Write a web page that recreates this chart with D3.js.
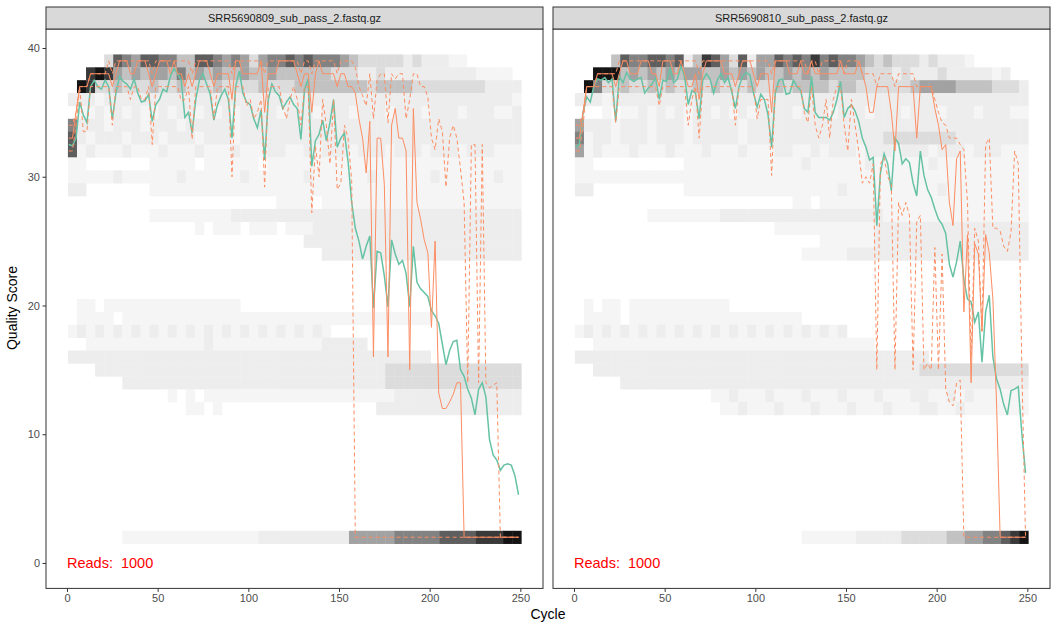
<!DOCTYPE html>
<html><head><meta charset="utf-8">
<script src="https://cdn.jsdelivr.net/npm/d3@7"></script>
<style>body{margin:0;background:#fff}svg{display:block}text{font-family:"Liberation Sans",Arial,sans-serif}</style>
</head><body><svg id="chart" width="1058" height="629"></svg>
<script>
// ---------------- data ----------------
const sampleNames = ["SRR5690809_sub_pass_2.fastq.gz", "SRR5690810_sub_pass_2.fastq.gz"];
const readCounts = [1000, 1000];
const xTicks = [0, 50, 100, 150, 200, 250];
const yTicks = [0, 10, 20, 30, 40];
const cycles = d3.range(1, 250, 2); // sampled cycles 1,3,...,249

// left sample (SRR5690809)
const meanL = [
 32.5,32.4,33.0,35.8,34.8,34.2,37.0,37.5,37.0,36.8,
 37.5,37.0,34.5,36.5,37.8,37.4,37.2,36.8,37.6,36.5,
 35.8,35.9,36.4,34.3,35.6,36.0,36.8,36.6,37.8,38.4,
 38.0,37.5,34.6,35.0,33.4,36.0,37.5,38.0,37.2,36.4,
 34.4,35.6,36.3,36.8,36.0,33.0,37.0,38.2,36.5,35.8,
 35.6,34.5,33.8,35.2,31.3,36.0,37.2,36.6,36.3,35.3,
 35.8,36.2,35.6,35.3,32.9,36.8,37.6,30.8,32.8,33.3,
 34.4,32.8,34.2,36.0,32.3,33.0,33.4,31.2,28.0,26.0,
 25.0,23.6,24.6,25.4,19.8,24.2,24.1,22.3,19.9,25.1,
 24.0,23.2,23.5,22.5,19.9,24.6,21.8,21.3,21.0,20.7,
 19.6,19.2,18.6,17.0,15.4,16.5,17.2,17.3,15.0,14.5,
 13.5,12.8,11.5,13.5,14.0,12.9,9.6,8.4,8.0,7.2,
 7.6,7.7,7.6,6.8,5.3];
const medianL = [
 33,33,35,37,37,37,38,38,38,38,
 38,38,37,38,39,39,39,38,38,39,
 39,39,38,37,38,39,39,39,38,39,
 38,38,37,38,37,38,39,39,39,38,
 37,38,38,38,38,36,39,39,38,38,
 38,38,38,39,35,38,38,38,39,39,
 39,39,39,38,37,38,38,35,38,39,
 38,38,38,38,37,38,38,37,37,36.5,
 34.5,33,30.3,34.3,16,33,33,29.4,16,34,
 35.3,33,33,32,15,35.3,28,26.7,25.1,24.1,
 18.3,25,13.2,12,12,12.5,13.1,14,14,2,
 2,2,2,2,2,2,2,2,2,2,
 2,2,2,2,2];
const q25L = [
 32,32,34,37,33.5,33.5,37,37,37,37,
 37,37,34,37,37,37,37,36,37,37,
 36,36,37,32.5,37,37,37,37,37,37,
 37,35.9,36,37,32.9,37,37,37,37,37,
 34.5,37,37,37,37,30,37,37,37,35.5,
 36,34.5,35,36,29.2,37,37,37,37,35.5,
 34.5,36,37,36,34,37,37,27.2,32.4,30,
 36,34,31,36,29,29.5,34,33,29.7,2,
 2,2,2,2,2,2,2,2,2,2,
 2,2,2,2,2,2,2,2,2,2,
 2,2,2,2,2,2,2,2,2,2,
 2,2,2,2,2,2,2,2,2,2,
 2,2,2,2,2];
const q75L = [
 34,34,35,37,37,37,38,38,38,38,
 38,39,38,39,39,39,39,39,39,39,
 39,39,39,38,39,39,39,39,39,39,
 39,39,39,39,38,39,39,39,39,39,
 39,39,39,39,39,38,39,39,39,39,
 39,39,39,39,38,39,39,39,39,39,
 39,39,39,39,38,39,39,38,39,39,
 39,39,39,39,38,39,39,39,39,38.5,
 37,36.3,35.5,38,34.5,37.5,38,38,34.2,38,
 37.6,38,38,34.5,36,38,38,37,37,36.2,
 33,32.1,34.5,33.5,29.2,33,34,33,30.6,28,
 14,32.5,32.5,14,32.5,14,13.6,13.8,14,2,
 2,2,2,2,2];

// right sample (SRR5690810)
const meanR = [
 32.3,32.5,35.0,36.2,35.8,37.1,37.6,37.5,37.7,37.3,
 37.6,34.3,37.8,37.3,38.1,37.6,37.4,37.6,37.7,36.5,
 36.9,37.2,37.7,36.0,37.5,37.4,38.4,37.3,37.6,38.6,
 37.8,35.6,36.7,36.5,34.5,37.5,38.0,37.6,36.5,37.5,
 38.0,37.3,37.7,36.6,35.3,37.0,37.8,38.1,37.9,36.5,
 35.4,36.4,36.0,34.8,32.3,36.5,37.5,37.6,36.4,36.5,
 37.5,37.0,36.7,35.3,35.0,37.8,35.0,34.6,34.6,34.6,
 34.4,35.0,36.0,37.4,34.6,35.3,35.6,35.1,34.3,33.0,
 32.3,31.3,31.5,26.2,30.3,31.8,31.0,28.9,33.0,32.6,
 31.0,31.4,31.1,29.5,28.5,32.0,30.1,29.0,28.4,27.5,
 26.7,26.3,25.6,23.2,22.2,23.4,25.0,22.0,20.5,20.3,
 18.7,19.5,15.6,19.5,20.8,16.0,14.3,13.5,12.3,11.5,
 13.4,13.5,13.7,10.0,7.0];
const medianR = [
 33,33,35,37,37,37,38,38,38,38,
 38,37,38,39,39,38,38,38,39,39,
 39,38,38,37,39,39,39,38,38,39,
 38,37,37,38,36,38,39,39,39,39,
 39,38,38,38,37,38,39,39,39,38,
 37,38,38,38,35,39,39,39,39,38,
 38,38,39,38,38,39,38,38,38,38,
 38,38,38,39,38,38,38,38,39,38,
 37,35,35,37,37,37,37,35,32,37,
 37,37,37,37,33,37,37,37,37,35.3,
 34,32.1,32.5,28,26.2,31.4,32,19.5,25.5,14,
 24.8,24,18,25.5,24.1,20.5,12.5,2,2,2,
 2,2,2,2,2];
const q25R = [
 32,32,34,37,37,37,37,37,37,37,
 37,34.2,37,37,37,37,37,37,37,37,
 37,37,37,35.5,37,37,37,37,37,37,
 37,34,36,37,33,37,37,37,37,37,
 37,37,37,37,34,37,37,37,37,37,
 34.5,36,36,36,30.1,37,37,37,37,37,
 37,37,37,35,34.2,37,34,33,34,36,
 33,36,37,37,34,32,36,34,32,29.5,
 30,29.5,31,15,31,31.5,30,29.4,15,28,
 27,28,27,15,26.5,27,15,15.5,15,24.5,
 15,24,13.5,12.5,12.2,14,14.2,2,2,2,
 2,2,2,2,2,2,2,2,2,2,
 2,2,2,2,2];
const q75R = [
 34,34,35,37,37,37,38,38,38,38,
 38,38,39,39,39,39,39,39,39,39,
 39,39,39,39,39,39,39,39,39,39,
 39,39,39,39,38,39,39,39,39,39,
 39,39,39,39,39,39,39,39,39,39,
 39,39,39,39,38,39,39,39,39,39,
 39,39,39,39,38,39,39,38,39,39,
 39,39,39,39,38,39,39,39,39,38,
 38,38,38,37,38,38,38,38,37,38,
 38,38,38,38,37,37,37,37,37,36,
 35,34.2,34,33,33,33,32.5,32.1,28,16,
 26,25,18,32.5,33,26,26,25.8,24.6,24.2,
 25.7,32,31,15,2];

// heat-map of read counts: one row per quality score, one digit per 5-cycle block
// (0 = no reads, 1 = few ... 9 = most)
const heatQ = [39,38,37,36,35,34,33,32,31,30,29,28,27,26,25,24,20,19,18,17,16,15,14,13,12,2];
const heatRowsL = [
 "0000"+"376577664477656535667"+"6766654333332322211"+"000000",
 "00"+"898"+"5454554"+"6"+"454544544544"+"4444333"+"2232222222222111"+"10",
 "098"+"3343334334333433334333"+"444444443444433333333"+"2222",
 "2"+"2212222222222222222222222222222222222222222222221",
 "0"+"1121212112122121212222122212221222122212221222112",
 "6"+"2221222122212222212222222222222222222222222222222",
 "7"+"2122212221222122212222222222222222222222222222222",
 "7"+"1211121112111211121112211212221222122212221222111",
 "11"+"0000000"+"11111011111101111111111111111111111111111",
 "11111211111121111112111111211111121111112111111211",
 "22"+"0000000"+"11111111111111111111111111111111111111111",
 "00000000000000000000000"+"111101111111111111111111111",
 "000000000"+"111111111"+"222222222222222222222222"+"22222222",
 "00000000000000"+"1011101110111"+"22222222222222"+"222222222",
 "00000000000000000000000000"+"22222222222222"+"2222222222",
 "0000000000000000000000000000"+"222222222222"+"2222222222",
 "0"+"1101111111111111110",
 "0"+"111101111111111111111111111111111111111",
 "12121212121212121212121212121",
 "00"+"1111111111111211111111111122222",
 "2222222222222222222222222222222222222222",
 "000"+"22222222222222222222222222222222"+"333333333333333",
 "000000"+"22222222222222222222222222222"+"333333333333333",
 "00000000000"+"1010111111111111111111111"+"222222222222222",
 "0000000000000"+"1101"+"00000000000000000"+"2222222222222222",
 "000000"+"111111111111111"+"2222222222"+"55555"+"66666"+"7777"+"888"+"99"
];
const heatRowsR = [
 "0000"+"476677672487537255767"+"6867665434333232221"+"000000",
 "00999"+"45454545544545454454"+"5454444"+"3332322232222212"+"00",
 "0"+"96"+"3343343433434333433434"+"4443443333334555544443332",
 "2"+"2212222222222222222222222222222222222222222222222",
 "0"+"0010112121212212121222212221222122212221222122211",
 "5"+"2221222122212222212222222222222222222222222222222",
 "6"+"1221222122212222212222222222222223333333322222222",
 "5"+"1211121112111211121112211212221222122212221222111",
 "11"+"0000000000"+"11111111111112111111211111121111111111",
 "11111111111111111111111111111111111111111111111111",
 "22"+"0000000000"+"11111111111111111211111111112111111111",
 "000000000000000000000000"+"11011111111111111111111111",
 "00000000"+"11111111"+"222222222222222222"+"1111111111111111",
 "0000000000000000000000"+"11111111111"+"22222222222222222",
 "000000000000000000000000000"+"11111122222222222222222",
 "0000000000000000000000000"+"11111"+"22222222222222222222",
 "0"+"1011011111111111",
 "0"+"111101111111111111111111",
 "121212121212121212121212121212",
 "00"+"1111111111111111111111111111111",
 "222222222222222222222222222222222222222",
 "00"+"222222222222222222222222222222222222"+"333333333333",
 "00000"+"222222222222222222222222222222222222222222222",
 "000000000000000"+"11211121112111211121112211212111111",
 "0000000000000000"+"1121112111211121112111221121111111",
 "0000000000000000000000000"+"111111"+"22222"+"33333"+"44"+"55"+"66"+"7"+"8"+"9"
];

// ---------------- styles ----------------
const greys = [null,"#F5F5F5","#EDEDED","#DCDCDC","#C2C2C2","#A2A2A2","#828282","#5E5E5E","#393939","#141414"];
const meanColor = "#66C2A5", quantColor = "#FC8D62";

const svg = d3.select("#chart");
const panelTop = 29, panelBottom = 588.4, stripTop = 7;
const y = d3.scaleLinear().domain([-1.975, 41.475]).range([panelBottom, panelTop]);

const panels = [
  {name: sampleNames[0], reads: readCounts[0], x0: 46, x1: 543, mean: meanL, med: medianL, q25: q25L, q75: q75L, heat: heatRowsL},
  {name: sampleNames[1], reads: readCounts[1], x0: 553, x1: 1050, mean: meanR, med: medianR, q25: q25R, q75: q75R, heat: heatRowsR}
];

panels.forEach((p, pi) => {
  const x = d3.scaleLinear().domain([-11.58, 262.5]).range([p.x0, p.x1]);
  const g = svg.append("g");
  const clipId = "clip" + pi;
  svg.append("clipPath").attr("id", clipId).append("rect")
    .attr("x", p.x0).attr("y", panelTop).attr("width", p.x1 - p.x0).attr("height", panelBottom - panelTop);
  const inner = g.append("g").attr("clip-path", `url(#${clipId})`);

  // tiles
  const tiles = [];
  heatQ.forEach((q, r) => {
    const s = p.heat[r] || "";
    for (let k = 0; k < 50; k++) {
      const d = +(s[k] || 0);
      if (d > 0) tiles.push({q, k, d});
    }
  });
  inner.selectAll("rect.tile").data(tiles).join("rect").attr("class", "tile")
    .attr("x", d => x(5 * d.k + 0.5))
    .attr("width", d => x(5 * d.k + 5.5) - x(5 * d.k + 0.5) + 0.4)
    .attr("y", d => y(d.q + 0.5))
    .attr("height", d => y(d.q - 0.5) - y(d.q + 0.5) + 0.3)
    .attr("fill", d => greys[d.d]);

  const line = arr => d3.line().x((d, i) => x(cycles[i])).y(d => y(d))(arr.slice(0, cycles.length));
  inner.append("path").attr("d", line(p.mean)).attr("fill", "none")
    .attr("stroke", meanColor).attr("stroke-width", 1.5);
  inner.append("path").attr("d", line(p.med)).attr("fill", "none")
    .attr("stroke", quantColor).attr("stroke-width", 1);
  [p.q25, p.q75].forEach(a => inner.append("path").attr("d", line(a)).attr("fill", "none")
    .attr("stroke", quantColor).attr("stroke-width", 1).attr("stroke-dasharray", "4,3"));

  // reads annotation
  g.append("text").attr("x", x(0)).attr("y", y(0)).attr("dy", "0.35em")
    .attr("fill", "#FF0000").attr("font-size", 14.5).style("white-space", "pre")
    .text("Reads:  " + p.reads);

  // border
  g.append("rect").attr("x", p.x0).attr("y", panelTop).attr("width", p.x1 - p.x0)
    .attr("height", panelBottom - panelTop).attr("fill", "none").attr("stroke", "#333333").attr("stroke-width", 1);
  // strip
  g.append("rect").attr("x", p.x0).attr("y", stripTop).attr("width", p.x1 - p.x0)
    .attr("height", panelTop - stripTop).attr("fill", "#D9D9D9").attr("stroke", "#333333").attr("stroke-width", 1);
  g.append("text").attr("x", (p.x0 + p.x1) / 2).attr("y", (stripTop + panelTop) / 2).attr("dy", "0.35em")
    .attr("text-anchor", "middle").attr("font-size", 11).attr("fill", "#1A1A1A").text(p.name);

  // x axis
  const xa = d3.axisBottom(x).tickValues(xTicks).tickSize(3.5).tickPadding(2.5);
  const gx = g.append("g").attr("transform", `translate(0,${panelBottom})`).call(xa);
  gx.select(".domain").remove();
  gx.selectAll("line").attr("stroke", "#333333");
  gx.selectAll("text").attr("fill", "#4D4D4D").attr("font-size", 11).attr("font-family", '"Liberation Sans",Arial,sans-serif');

  if (pi === 0) {
    const ya = d3.axisLeft(y).tickValues(yTicks).tickSize(3.5).tickPadding(2.5);
    const gy = g.append("g").attr("transform", `translate(${p.x0},0)`).call(ya);
    gy.select(".domain").remove();
    gy.selectAll("line").attr("stroke", "#333333");
    gy.selectAll("text").attr("fill", "#4D4D4D").attr("font-size", 11).attr("font-family", '"Liberation Sans",Arial,sans-serif');
  }
});

svg.append("text").attr("x", 548).attr("y", 619).attr("text-anchor", "middle")
  .attr("font-size", 14).attr("fill", "#000").text("Cycle");
svg.append("text").attr("transform", "translate(17,308) rotate(-90)").attr("text-anchor", "middle")
  .attr("font-size", 14).attr("fill", "#000").text("Quality Score");
</script></body></html>
